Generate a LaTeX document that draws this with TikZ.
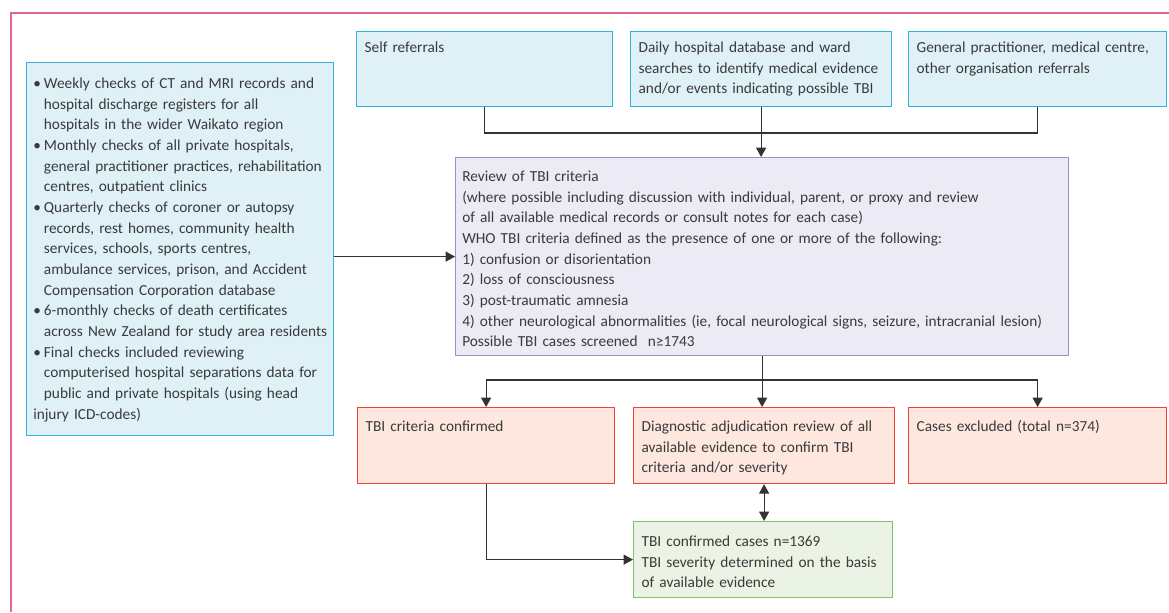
\documentclass[tikz,border=0pt]{standalone}
\usepackage{fontspec}
\setmainfont{Carlito}
\usepackage{tikz}
\usetikzlibrary{arrows.meta,positioning}
\definecolor{tbiblue}{HTML}{2FB4D6}
\definecolor{tbiblbg}{HTML}{DFF0F7}
\definecolor{tbililac}{HTML}{A98AC8}
\definecolor{tbillbg}{HTML}{ECEAF4}
\definecolor{tbired}{HTML}{EF4038}
\definecolor{tbirbg}{HTML}{FDE7DE}
\definecolor{tbigreen}{HTML}{7CC36A}
\definecolor{tbigbg}{HTML}{EAF3E4}
\definecolor{tbiline}{HTML}{333333}
\definecolor{tbitext}{HTML}{3A3A3A}
\definecolor{tbiframe}{HTML}{E0688A}
\hyphenpenalty=10000
\exhyphenpenalty=10000
\newcommand{\srcitem}{\leftskip=8pt\noindent\llap{\makebox[8pt][l]{\textbullet}}}

\begin{document}
\begin{tikzpicture}[
    x=0.75pt,y=-0.75pt,
    font=\fontsize{11.5}{15.5}\selectfont,text=tbitext,
    box/.style={draw,line width=0.9pt,anchor=north west,align=left,
                inner xsep=6pt,inner ysep=0pt},
    srcbox/.style={box,draw=tbiblue,fill=tbiblbg},
    revbox/.style={box,draw=tbililac,fill=tbillbg},
    outbox/.style={box,draw=tbired,fill=tbirbg},
    casebox/.style={box,draw=tbigreen,fill=tbigbg},
    toprow/.style={text height=15.75pt,text depth=40.5pt},
    outrow/.style={text height=18pt,text depth=39pt},
    ln/.style={line width=0.8pt,tbiline},
    arr/.style={-{Triangle[length=7pt,width=7.5pt]},line width=0.8pt,tbiline},
    dbl/.style={{Triangle[length=7pt,width=7.5pt]}-{Triangle[length=7pt,width=7.5pt]},
                line width=0.8pt,tbiline}
  ]
    \useasboundingbox (0,0) rectangle (1169,612);
    \draw[tbiframe,line width=1pt] (11,612) -- (11,13) -- (1169,13);

    % Sources
    \node[srcbox,inner xsep=5pt,text width=220.25pt,text height=19.5pt,text depth=260.25pt]
      (src) at (26,62)
      {\srcitem Weekly checks of CT and MRI records and\\
       hospital discharge registers for all\\
       hospitals in the wider Waikato region\\
       \srcitem Monthly checks of all private hospitals,\\
       general practitioner practices, rehabilitation\\
       centres, outpatient clinics\\
       \srcitem Quarterly checks of coroner or autopsy\\
       records, rest homes, community health\\
       services, schools, sports centres,\\
       ambulance services, prison, and Accident\\
       Compensation Corporation database\\
       \srcitem 6-monthly checks of death certificates\\
       \mbox{across New Zealand for study area residents}\\
       \srcitem Final checks included reviewing\\
       computerised hospital separations data for\\
       public and private hospitals (using head\\
       injury ICD-codes)};
    \node[srcbox,toprow,text width=180pt] (self) at (356,31) {Self referrals};
    \node[srcbox,toprow,text width=183.75pt] (daily) at (630,31)
      {Daily hospital database and ward\\
       searches to identify medical evidence\\
       and/or events indicating possible TBI};
    \node[srcbox,toprow,text width=181.5pt] (gp) at (908,31)
      {General practitioner, medical centre,\\
       other organisation referrals};

    % Review
    \node[revbox,inner xsep=5pt,text width=449.75pt,text height=18pt,text depth=130.5pt]
      (review) at (455,157)
      {Review of TBI criteria\\
       (where possible including discussion with individual, parent, or proxy and review\\
       of all available medical records or consult notes for each case)\\
       WHO TBI criteria defined as the presence of one or more of the following:\\
       1) confusion or disorientation\\
       2) loss of consciousness\\
       3) post-traumatic amnesia\\
       4) other neurological abnormalities (ie, focal neurological signs, seizure, intracranial lesion)\\
       Possible TBI cases screened\ \ n≥1743};

    % Outcomes
    \node[outbox,outrow,text width=180.75pt] (confirmed) at (357,407) {TBI criteria confirmed};
    \node[outbox,outrow,text width=183.75pt] (adjud) at (633,407)
      {Diagnostic adjudication review of all\\
       available evidence to confirm TBI\\
       criteria and/or severity};
    \node[outbox,outrow,text width=181.5pt] (excluded) at (908,407) {Cases excluded (total n=374)};
    \node[casebox,text width=182.25pt,text height=18.75pt,text depth=38.25pt] (cases) at (633,521)
      {TBI confirmed cases n=1369\\
       TBI severity determined on the basis\\
       of available evidence};

    % Arrows
    \coordinate (merge) at (761,133);
    \coordinate (split) at (761,380);
    \draw[ln] (self.south) |- (merge) -| (gp.south);
    \draw[arr] (daily.south) -- (daily.south |- review.north);
    \draw[arr] (src.east |- review.west) -- (review.west);
    \draw[arr] (review.south) -- (review.south |- adjud.north);
    \draw[arr] (split) -| (confirmed.north);
    \draw[arr] (split) -| (excluded.north);
    \draw[dbl] (adjud.south) -- (adjud.south |- cases.north);
    \draw[arr] (confirmed.south) |- (cases.west);

  \end{tikzpicture}
\end{document}
